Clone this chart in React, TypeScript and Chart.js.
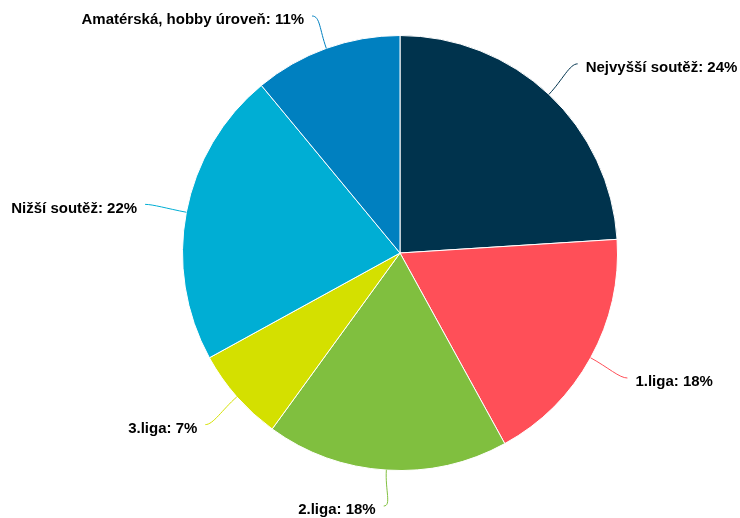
import React, { useEffect, useRef } from "react";
import { Chart, registerables } from "chart.js";

Chart.register(...registerables);

const categories = [
  "Nejvyšší soutěž",
  "1.liga",
  "2.liga",
  "3.liga",
  "Nižší soutěž",
  "Amatérská, hobby úroveň",
];
const shares = [24, 18, 18, 7, 22, 11];
const colors = ["#00334D", "#FF4F58", "#80BF3F", "#D4E000", "#00AED4", "#0080C0"];

const labelPlugin = {
  id: "pieLabels",
  afterDatasetsDraw(chart: any) {
    const ctx = chart.ctx as CanvasRenderingContext2D;
    const meta = chart.getDatasetMeta(0);
    ctx.save();
    ctx.font = "bold 15px 'Liberation Sans', Arial, sans-serif";
    ctx.textBaseline = "middle";
    meta.data.forEach((arc: any, i: number) => {
      const { x, y, startAngle, endAngle, outerRadius } = arc.getProps(
        ["x", "y", "startAngle", "endAngle", "outerRadius"],
        true
      );
      const mid = (startAngle + endAngle) / 2;
      const cos = Math.cos(mid);
      const sin = Math.sin(mid);
      const ex = x + outerRadius * cos;
      const ey = y + outerRadius * sin;
      const lr = outerRadius + 42;
      const lx = x + lr * cos;
      const ly = Math.min(Math.max(y + lr * sin, 16), chart.height - 12);
      const side = cos >= 0 ? 1 : -1;
      ctx.strokeStyle = colors[i];
      ctx.lineWidth = 1;
      ctx.beginPath();
      ctx.moveTo(ex, ey);
      ctx.bezierCurveTo(
        ex + cos * 20,
        ey + sin * 20,
        lx - side * 8,
        ly,
        lx,
        ly
      );
      ctx.stroke();
      ctx.fillStyle = "#000";
      ctx.textAlign = side > 0 ? "left" : "right";
      ctx.fillText(`${categories[i]}: ${shares[i]}%`, lx + side * 8, ly + 4);
    });
    ctx.restore();
  },
};

export default function App() {
  const ref = useRef<HTMLCanvasElement | null>(null);
  useEffect(() => {
    if (!ref.current) return;
    const chart = new Chart(ref.current, {
      type: "pie",
      data: {
        labels: categories,
        datasets: [
          {
            data: shares,
            backgroundColor: colors,
            borderColor: "#ffffff",
            borderWidth: 1,
          },
        ],
      },
      options: {
        responsive: false,
        animation: false,
        layout: { padding: { left: 182, right: 122, top: 35, bottom: 47 } },
        plugins: {
          legend: { display: false },
          tooltip: { enabled: false },
        },
      },
      plugins: [labelPlugin],
    });
    return () => chart.destroy();
  }, []);
  return (
    <div style={{ position: "fixed", left: 0, top: 0, width: 740, height: 518, background: "#fff" }}>
      <canvas ref={ref} width={740} height={518} />
    </div>
  );
}
